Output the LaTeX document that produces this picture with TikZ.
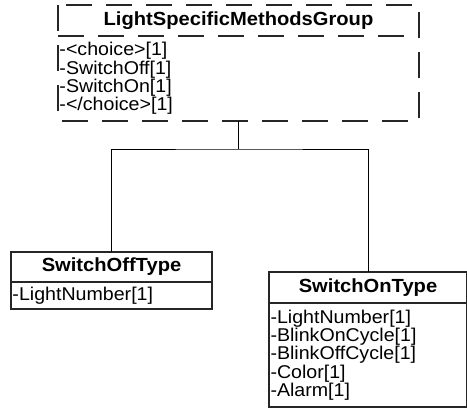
\documentclass[tikz,border=0pt]{standalone}
\usepackage{fontspec}
\setmainfont{Liberation Sans}[FakeStretch=1.06]
\usetikzlibrary{positioning}

\begin{document}
\begin{tikzpicture}[
  x=1pt, y=-1pt,
  every node/.style={font=\fontsize{18.5}{18.25}\selectfont, inner sep=1.5pt, outer sep=0pt},
  hdr/.style={font=\fontsize{19}{19}\selectfont\bfseries, minimum height=30pt, anchor=north west},
  body/.style={align=left, anchor=north west},
  boxline/.style={draw=black!85, line width=1.3pt},
  grpline/.style={draw=black!85, line width=1.6pt, dash pattern=on 26pt off 14pt},
  link/.style={draw=black, line width=0.8pt}
]
\useasboundingbox (0,0) rectangle (467,408);

% choice group (dashed)
\node[hdr, minimum width=361pt, minimum height=31pt] (grpHead) at (58,5) {LightSpecificMethodsGroup};
\node[body, text width=358pt, minimum height=85pt] (grpBody) at (grpHead.south west)
  {-<choice>[1]\\-SwitchOff[1]\\-SwitchOn[1]\\-</choice>[1]};
\draw[grpline] (grpHead.north west) rectangle (grpBody.south east);
\draw[grpline] (grpHead.south west) -- (grpHead.south east);

% element types
\node[hdr, boxline, minimum width=201pt] (offHead) at (11,252) {SwitchOffType};
\node[body, boxline, text width=198pt, minimum height=27pt] (offBody) at (offHead.south west)
  {-LightNumber[1]};

\node[hdr, boxline, minimum width=198pt, minimum height=31pt] (onHead) at (269,272) {SwitchOnType};
\node[body, boxline, text width=195pt, minimum height=104pt] (onBody) at (onHead.south west)
  {-LightNumber[1]\\-BlinkOnCycle[1]\\-BlinkOffCycle[1]\\-Color[1]\\-Alarm[1]};

% tree connector
\coordinate (fork) at (grpBody.south |- 0,149);
\draw[link] (grpBody.south) -- (fork);
\draw[link] (offHead.north) |- (fork) -| (onHead.north);
\end{tikzpicture}
\end{document}
